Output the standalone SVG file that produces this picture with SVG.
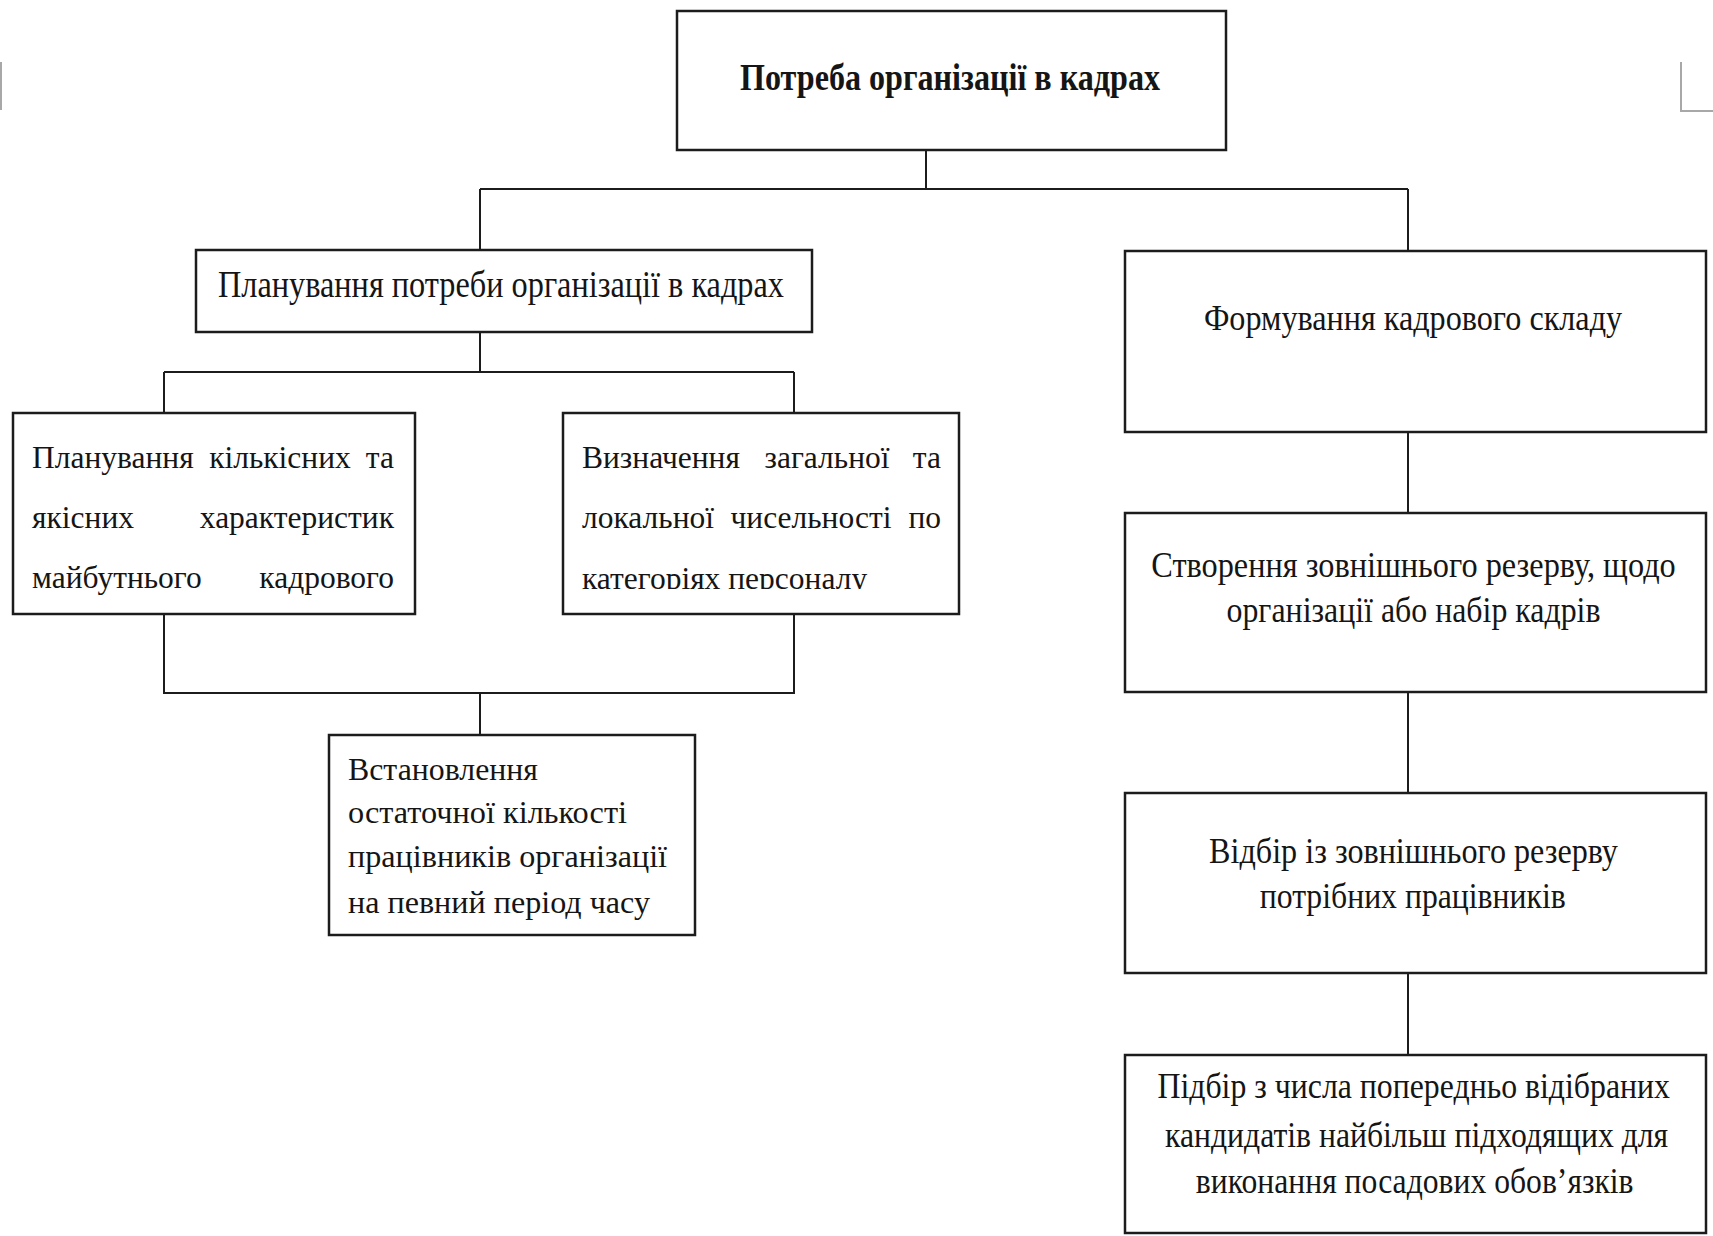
<svg xmlns="http://www.w3.org/2000/svg" width="1713" height="1236" viewBox="0 0 1713 1236">
  <style>
    .box { fill: #ffffff; stroke: #1c1c1c; stroke-width: 2.5; }
    .conn { fill: none; stroke: #1c1c1c; stroke-width: 2; }
    .mark { fill: none; stroke: #a8a8a8; stroke-width: 2; }
    text { font-family: "Liberation Serif", "Times New Roman", serif; fill: #151515; }
    .t { font-size: 31.5px; }
    .tm { font-size: 32px; }
    .tr { font-size: 36px; text-anchor: middle; }
    .title { font-size: 38px; font-weight: bold; text-anchor: middle; }
  </style>
  <defs>
    <clipPath id="clipB">
      <rect x="563" y="413" width="396" height="176"/>
    </clipPath>
  </defs>
  <rect width="1713" height="1236" fill="#ffffff"/>

  <!-- page corner marks -->
  <path class="mark" d="M1 62 V110"/>
  <path class="mark" d="M1681 62 V111 H1713"/>

  <g id="connectors">
    <path class="conn" d="M926 150 V189 M480 189 H1408 M480 189 V250 M1408 189 V251"/>
    <path class="conn" d="M480 332 V372 M164 372 H794 M164 372 V413 M794 372 V413"/>
    <path class="conn" d="M164 614 V693 H794 V614 M480 693 V735"/>
    <path class="conn" d="M1408 432 V513 M1408 692 V793 M1408 973 V1055"/>
  </g>

  <g id="node-root">
    <rect class="box" x="677" y="11" width="549" height="139"/>
    <text class="title" x="950" y="90" textLength="420" lengthAdjust="spacingAndGlyphs">Потреба організації в кадрах</text>
  </g>

  <g id="node-planning">
    <rect class="box" x="196" y="250" width="616" height="82"/>
    <text x="501" y="297" font-size="37" text-anchor="middle" textLength="566" lengthAdjust="spacingAndGlyphs">Планування потреби організації в кадрах</text>
  </g>

  <g id="node-quant">
    <rect class="box" x="13" y="413" width="402" height="201"/>
    <text class="t" x="32" y="468">Планування</text>
    <text class="t" x="280" y="468" text-anchor="middle">кількісних</text>
    <text class="t" x="394" y="468" text-anchor="end">та</text>
    <text class="t" x="32" y="528">якісних</text>
    <text class="t" x="394" y="528" text-anchor="end">характеристик</text>
    <text class="t" x="32" y="588">майбутнього</text>
    <text class="t" x="394" y="588" text-anchor="end">кадрового</text>
  </g>

  <g id="node-count">
    <rect class="box" x="563" y="413" width="396" height="201"/>
    <text class="t" x="582" y="468">Визначення</text>
    <text class="t" x="827" y="468" text-anchor="middle">загальної</text>
    <text class="t" x="941" y="468" text-anchor="end">та</text>
    <text class="t" x="582" y="528">локальної</text>
    <text class="t" x="811" y="528" text-anchor="middle">чисельності</text>
    <text class="t" x="941" y="528" text-anchor="end">по</text>
    <text class="t" x="582" y="589" clip-path="url(#clipB)">категоріях персоналу</text>
  </g>

  <g id="node-final">
    <rect class="box" x="329" y="735" width="366" height="200"/>
    <text class="tm" x="348" y="780" textLength="190" lengthAdjust="spacingAndGlyphs">Встановлення</text>
    <text class="tm" x="348" y="823" textLength="279" lengthAdjust="spacingAndGlyphs">остаточної кількості</text>
    <text class="tm" x="348" y="867" textLength="319" lengthAdjust="spacingAndGlyphs">працівників організації</text>
    <text class="tm" x="348" y="913" textLength="302" lengthAdjust="spacingAndGlyphs">на певний період часу</text>
  </g>

  <g id="node-forming">
    <rect class="box" x="1125" y="251" width="581" height="181"/>
    <text class="tr" transform="translate(1413 330) scale(0.85 1)" textLength="492" lengthAdjust="spacingAndGlyphs">Формування кадрового складу</text>
  </g>

  <g id="node-reserve">
    <rect class="box" x="1125" y="513" width="581" height="179"/>
    <text class="tr" transform="translate(1413.5 577) scale(0.85 1)" textLength="617" lengthAdjust="spacingAndGlyphs">Створення зовнішнього резерву, щодо</text>
    <text class="tr" transform="translate(1413.5 622) scale(0.85 1)" textLength="440" lengthAdjust="spacingAndGlyphs">організації або набір кадрів</text>
  </g>

  <g id="node-selection">
    <rect class="box" x="1125" y="793" width="581" height="180"/>
    <text class="tr" transform="translate(1413.5 863) scale(0.85 1)" textLength="481" lengthAdjust="spacingAndGlyphs">Відбір із зовнішнього резерву</text>
    <text class="tr" transform="translate(1412.7 908) scale(0.85 1)" textLength="360" lengthAdjust="spacingAndGlyphs">потрібних працівників</text>
  </g>

  <g id="node-choice">
    <rect class="box" x="1125" y="1055" width="581" height="178"/>
    <text class="tr" transform="translate(1413.7 1098) scale(0.85 1)" textLength="603" lengthAdjust="spacingAndGlyphs">Підбір з числа попередньо відібраних</text>
    <text class="tr" transform="translate(1416.6 1147) scale(0.85 1)" textLength="592" lengthAdjust="spacingAndGlyphs">кандидатів найбільш підходящих для</text>
    <text class="tr" transform="translate(1414.7 1193) scale(0.85 1)" textLength="515" lengthAdjust="spacingAndGlyphs">виконання посадових обов’язків</text>
  </g>
</svg>
